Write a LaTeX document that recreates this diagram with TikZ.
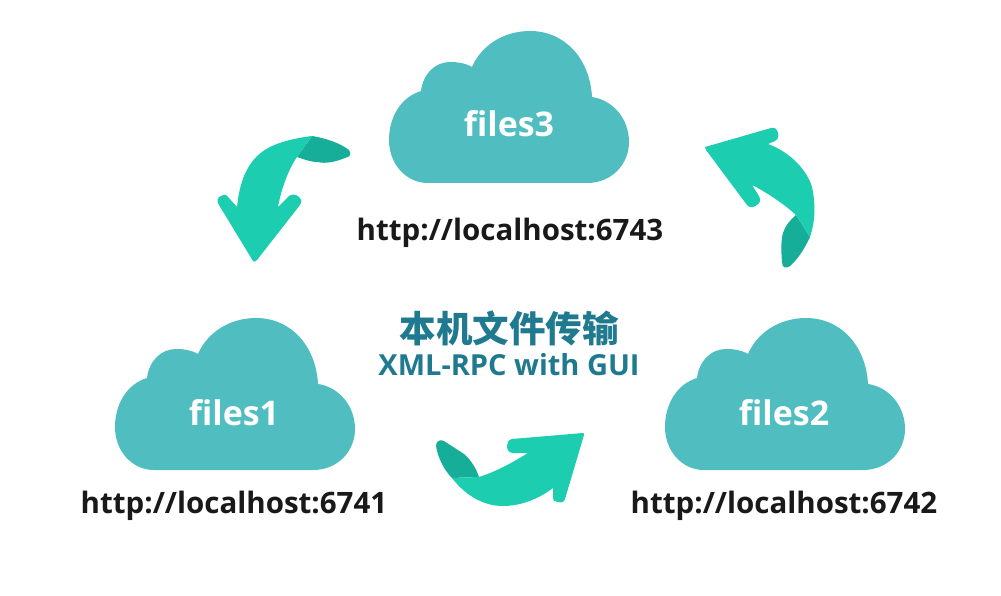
\documentclass[tikz,border=0pt]{standalone}
\usepackage{fontspec}
\setmainfont{Open Sans}
\newfontfamily\cjk{Noto Sans CJK SC}
\definecolor{cloudcol}{HTML}{50BDC1}
\definecolor{arrowcol}{HTML}{1CCDB0}
\definecolor{foldcol}{HTML}{17AE99}
\definecolor{titlecol}{HTML}{1F7A90}
\tikzset{
    cloudshape/.pic={
        \fill[cloudcol] (-81,61) -- (78,61)
            .. controls (103,61) and (120,42) .. (120,20)
            .. controls (120,-3) and (104,-22) .. (83,-25)
            .. controls (81,-63) and (56,-91) .. (21,-91)
            .. controls (-6,-91) and (-28,-76) .. (-37,-55)
            .. controls (-44,-59) and (-51,-60) .. (-59,-60)
            .. controls (-74,-60) and (-86,-48) .. (-88,-31)
            .. controls (-108,-25) and (-120,-5) .. (-120,18)
            .. controls (-120,42) and (-103,61) .. (-81,61) -- cycle;
    },
    cloudlabel/.style={text=white, font=\bfseries\fontsize{34}{34}\selectfont, inner sep=0pt},
    urllabel/.style={text=black!90, font=\bfseries\fontsize{29.5}{29.5}\selectfont, inner sep=0pt},
}
\begin{document}
\begin{tikzpicture}[x=1pt, y=-1pt]
    \useasboundingbox (0,0) rectangle (1001,596);

    % clouds
    \pic at (509,122) {cloudshape};
    \pic at (235,409) {cloudshape};
    \pic at (785,409) {cloudshape};

    \node[cloudlabel] (files3) at (509,124) {files3};
    \node[cloudlabel] (files1) at (234,413) {files1};
    \node[cloudlabel] (files2) at (784,413) {files2};

    \node[urllabel] (url3) at (510,233) {http://localhost:6743};
    \node[urllabel] (url1) at (234,506) {http://localhost:6741};
    \node[urllabel] (url2) at (784,506) {http://localhost:6742};

    % title
    \node[text=titlecol, font=\cjk\bfseries\fontsize{36.5}{36.5}\selectfont, inner sep=0pt] (title) at (509,328) {本机文件传输};
    \node[text=titlecol, font=\bfseries\fontsize{29}{29}\selectfont, inner sep=0pt] (subtitle) at (509,365) {XML-RPC with GUI};

    % arrow files3 to files1
    \fill[foldcol] (312,136) .. controls (325,138) and (340,143) .. (349,150)
        .. controls (352,154) and (350,157) .. (345,158)
        .. controls (335,162) and (325,164) .. (318,162)
        .. controls (310,162) and (303,159) .. (297,157) -- cycle;
    \fill[arrowcol] (253,261) -- (219,205)
        .. controls (216,201) and (218,197) .. (221,196)
        .. controls (223,194) and (226,194) .. (228,197) -- (237,207)
        .. controls (240,177) and (250,157) .. (270,147)
        .. controls (282,141) and (297,138) .. (312,136)
        -- (297,157) .. controls (288,170) and (281,190) .. (278,207)
        -- (289,196) .. controls (292,194) and (296,194) .. (299,197)
        .. controls (302,200) and (302,203) .. (300,205)
        -- (257,260) .. controls (255,262) and (254,262) .. (253,261) -- cycle;

    % arrow files2 to files3
    \fill[foldcol] (796,215) -- (810,237)
        .. controls (804,250) and (797,260) .. (790,266)
        .. controls (786,269) and (782,268) .. (782,262)
        .. controls (781,250) and (781,240) .. (783,233)
        .. controls (785,226) and (790,220) .. (796,215) -- cycle;
    \fill[arrowcol] (705,147) -- (771,128)
        .. controls (775,127) and (777,129) .. (778,133)
        .. controls (779,137) and (778,139) .. (775,141) -- (768,144)
        .. controls (790,152) and (807,170) .. (812,187)
        .. controls (816,205) and (815,222) .. (810,237)
        -- (796,215) .. controls (785,205) and (768,193) .. (752,185)
        -- (759,196) .. controls (761,200) and (760,203) .. (757,205)
        .. controls (753,208) and (750,208) .. (747,205)
        -- (706,150) .. controls (705,149) and (705,148) .. (705,147) -- cycle;

    % arrow files1 to files2
    \fill[foldcol] (479,477) .. controls (476,468) and (471,460) .. (464,454)
        -- (444,441) .. controls (440,439) and (436,441) .. (436,446)
        .. controls (438,458) and (444,470) .. (452,478) -- cycle;
    \fill[arrowcol] (583,433) -- (512,439)
        .. controls (508,440) and (507,443) .. (507,446)
        .. controls (507,450) and (509,453) .. (513,453) -- (528,453)
        .. controls (512,463) and (495,472) .. (479,477)
        -- (452,478) .. controls (465,495) and (483,506) .. (503,506)
        .. controls (522,506) and (540,498) .. (553,488)
        -- (553,497) .. controls (553,501) and (555,502) .. (558,502)
        .. controls (562,503) and (564,502) .. (565,499)
        -- (584,435) .. controls (584,434) and (584,433) .. (583,433) -- cycle;
\end{tikzpicture}
\end{document}
